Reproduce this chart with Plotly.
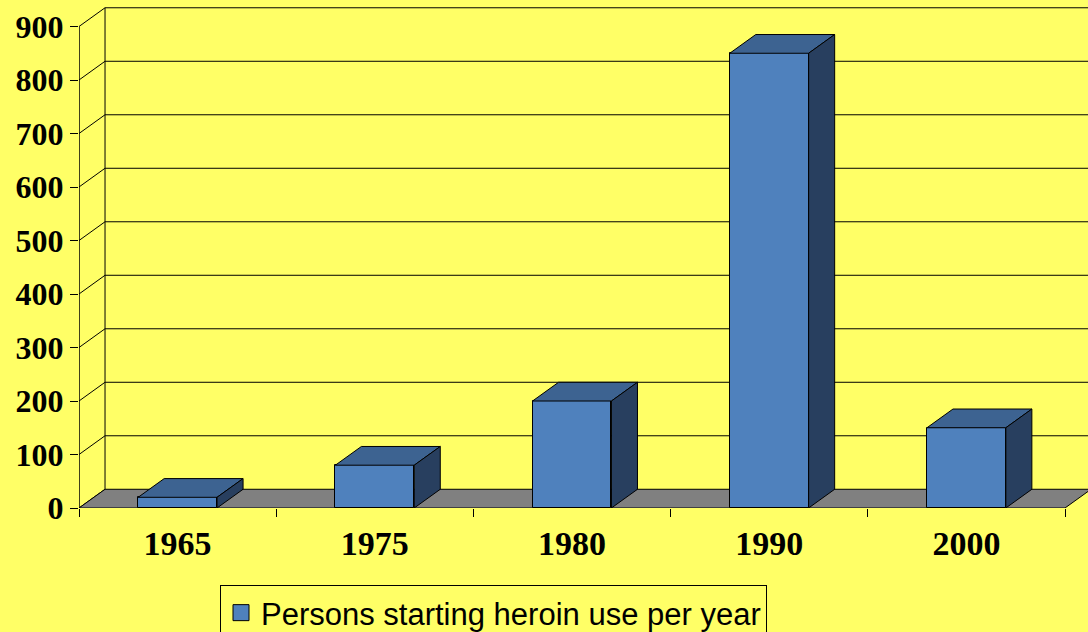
import plotly.graph_objects as go

# ---- data ----
years = ["1965", "1975", "1980", "1990", "2000"]
persons = [20, 80, 200, 850, 150]
y_ticks = [0, 100, 200, 300, 400, 500, 600, 700, 800, 900]
series_name = "Persons starting heroin use per year"

# ---- style / geometry ----
BG = "#FFFF66"
FRONT = "#4F81BD"
TOP = "#3D6391"
SIDE = "#283F5F"
FLOOR = "#808080"
BAR_W = 0.4          # bar width in category units
DX = 0.132           # depth offset (x, category units)
DY = 35              # depth offset (y, value units)
W, H = 1088, 632
ML, MB = 79, 124
X_MAX = (W - ML) / 197.2
Y_MAX = (H - MB) / 0.535

n = len(years)
centers = [i + 0.5 for i in range(n)]
ymax_tick = y_ticks[-1]

fig = go.Figure()

# front faces of bars
fig.add_trace(go.Bar(
    x=centers, y=persons, width=BAR_W, name=series_name,
    marker=dict(color=FRONT, line=dict(color="black", width=1)),
    showlegend=False, hoverinfo="skip"))

# top and side faces
tx, ty, sx, sy = [], [], [], []
for c, v in zip(centers, persons):
    xl, xr = c - BAR_W / 2, c + BAR_W / 2
    tx += [xl, xr, xr + DX, xl + DX, xl, None]
    ty += [v, v, v + DY, v + DY, v, None]
    sx += [xr, xr + DX, xr + DX, xr, xr, None]
    sy += [0, DY, v + DY, v, 0, None]

fig.add_trace(go.Scatter(x=tx, y=ty, mode="lines", fill="toself", fillcolor=TOP,
                         line=dict(color="black", width=1), showlegend=False,
                         hoverinfo="skip"))
fig.add_trace(go.Scatter(x=sx, y=sy, mode="lines", fill="toself", fillcolor=SIDE,
                         line=dict(color="black", width=1), showlegend=False,
                         hoverinfo="skip"))

# legend entry
fig.add_trace(go.Scatter(x=[None], y=[None], mode="markers", name=series_name,
                         marker=dict(symbol="square", size=16, color=FRONT,
                                     line=dict(color="black", width=1))))

shapes = []
# back wall gridlines and left-wall diagonals
for v in y_ticks:
    if v > 0:
        shapes.append(dict(type="line", xref="x", yref="y", x0=DX, x1=n + DX,
                           y0=v + DY, y1=v + DY, layer="below",
                           line=dict(color="black", width=1)))
    shapes.append(dict(type="line", xref="x", yref="y", x0=0, x1=DX,
                       y0=v, y1=v + DY, layer="below",
                       line=dict(color="black", width=1)))
# back wall left edge
shapes.append(dict(type="line", xref="x", yref="y", x0=DX, x1=DX,
                   y0=DY, y1=ymax_tick + DY, layer="below",
                   line=dict(color="black", width=1)))
# front value axis line
shapes.append(dict(type="line", xref="x", yref="y", x0=0, x1=0,
                   y0=0, y1=ymax_tick, layer="above",
                   line=dict(color="black", width=1.5)))
# floor
shapes.append(dict(type="path", xref="x", yref="y", layer="below",
                   path=f"M0,0 L{n},0 L{n + DX},{DY} L{DX},{DY} Z",
                   fillcolor=FLOOR, line=dict(color="black", width=1)))

serif = "Liberation Serif, Times New Roman, serif"
x_font = dict(family=serif, size=34, color="black", weight="bold")
y_font = dict(family=serif, size=32, color="black", weight="bold")

fig.update_layout(
    width=W, height=H,
    margin=dict(l=ML, r=0, t=0, b=MB, autoexpand=False),
    paper_bgcolor=BG, plot_bgcolor=BG,
    shapes=shapes,
    showlegend=True,
    legend=dict(x=(220 - ML) / (W - ML), y=-(585 - (H - MB)) / (H - MB),
                xanchor="left", yanchor="top",
                bgcolor=BG, bordercolor="black", borderwidth=1,
                font=dict(family="Liberation Sans, Arial, sans-serif", size=31,
                          color="black")),
    xaxis=dict(range=[0, X_MAX], showgrid=False, zeroline=False, showline=False,
               tickmode="array", tickvals=centers, ticktext=years,
               ticks="", tickfont=x_font, ticklabelstandoff=12,
               minor=dict(tickmode="array", tickvals=list(range(n + 1)),
                          ticks="outside", ticklen=8, tickwidth=1,
                          tickcolor="black", showgrid=False)),
    yaxis=dict(range=[0, Y_MAX], showgrid=False, zeroline=False, showline=False,
               tickmode="array", tickvals=y_ticks,
               ticks="outside", ticklen=8, tickwidth=1, tickcolor="black",
               tickfont=y_font),
    bargap=0,
)

fig.write_html("out.html",
               config={"displayModeBar": False},
               post_script="document.body.style.margin='0';"
                           "document.body.style.padding='0';"
                           "document.body.style.overflow='hidden';")
